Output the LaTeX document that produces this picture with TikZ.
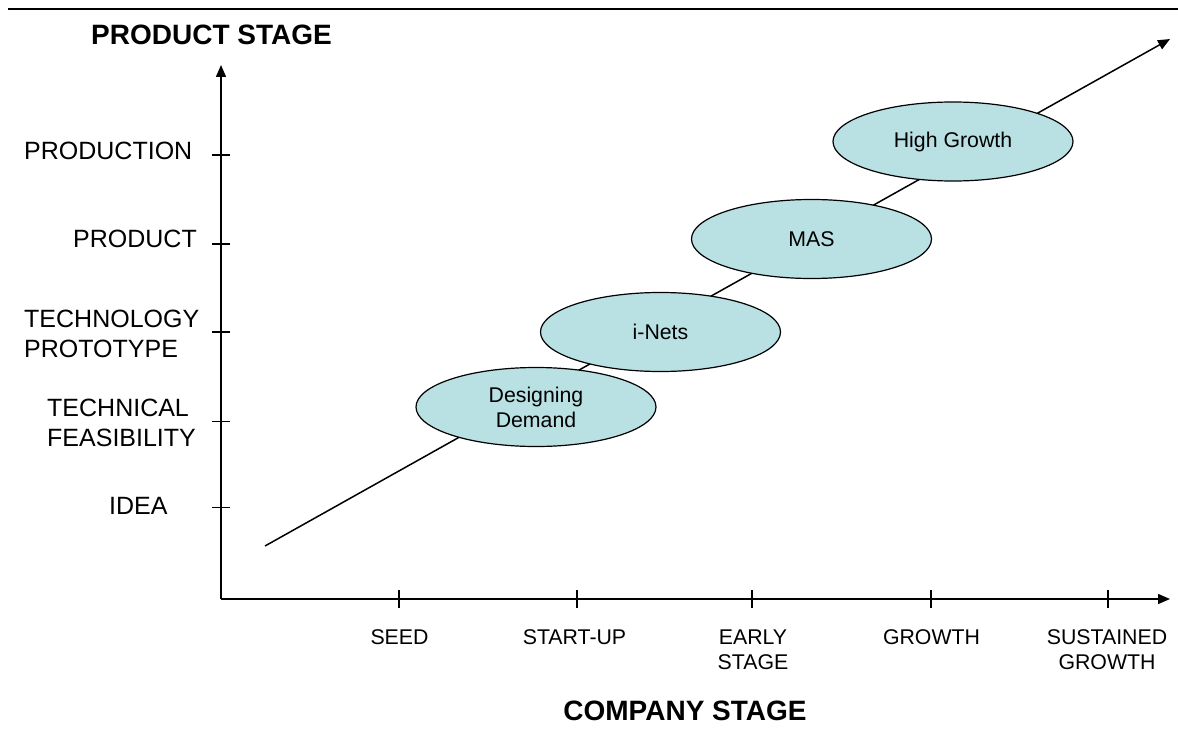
\documentclass[tikz,border=0pt]{standalone}
\usepackage{fontspec}
\setmainfont{Liberation Sans}
\usetikzlibrary{arrows.meta,shapes.geometric}
\definecolor{blobfill}{HTML}{B9E0E3}
\tikzset{
  axisline/.style={line width=1.5pt,-{Triangle[length=12pt,width=10pt]}},
  tickmark/.style={line width=1.2pt},
  ylab/.style={inner sep=0pt,anchor=base west,font=\fontsize{25}{30}\selectfont},
  xlab/.style={inner sep=0pt,anchor=base,font=\fontsize{21.3}{25}\selectfont},
  titlelab/.style={inner sep=0pt,anchor=base,font=\bfseries\fontsize{28}{30}\selectfont},
  blob/.style={ellipse,draw=black,line width=1.2pt,fill=blobfill,minimum width=240pt,minimum height=79pt,inner sep=0pt,align=center,font=\fontsize{21.3}{25}\selectfont},
}
\begin{document}
\begin{tikzpicture}[x=1pt,y=-1pt]
\useasboundingbox (0,0) rectangle (1178,733);
% top rule
\coordinate (rl) at (8,9);
\coordinate (rr) at (1178,9);
\draw[line width=2pt] (rl) -- (rr);
% axes
\coordinate (o) at (221,599);
\coordinate (ytop) at (221,65);
\coordinate (xend) at (1170,599);
\draw[axisline] (o) -- (ytop);
\draw[axisline] (o) -- (xend);
% y ticks
\foreach \yy/\nm in {155/ta,244/tb,332/tc,421.5/td,507.5/te}{
  \coordinate (\nm l) at (212,\yy);
  \coordinate (\nm r) at (230,\yy);
  \draw[tickmark] (\nm l) -- (\nm r);
}
% x ticks
\foreach \xx/\nm in {399/xa,577/xb,752/xc,931/xd,1108/xe}{
  \coordinate (\nm t) at (\xx,590);
  \coordinate (\nm b) at (\xx,608);
  \draw[tickmark] (\nm t) -- (\nm b);
}
% titles
\node[titlelab] (ptitle) at (211.5,45) {PRODUCT STAGE};
\node[titlelab] (ctitle) at (685,720) {COMPANY STAGE};
% y labels
\node[ylab] (yl1) at (24,160) {PRODUCTION};
\node[ylab] (yl2) at (73,247.3) {PRODUCT};
\node[ylab] (yl3a) at (24,327.3) {TECHNOLOGY};
\node[ylab] (yl3b) at (24,357.3) {PROTOTYPE};
\node[ylab] (yl4a) at (47,416) {TECHNICAL};
\node[ylab] (yl4b) at (47,446) {FEASIBILITY};
\node[ylab] (yl5) at (109,514) {IDEA};
% x labels
\node[xlab] (xl1) at (399.5,644) {SEED};
\node[xlab] (xl2) at (574.5,644) {START-UP};
\node[xlab] (xl3a) at (753,644) {EARLY};
\node[xlab] (xl3b) at (753,669) {STAGE};
\node[xlab] (xl4) at (931.5,644) {GROWTH};
\node[xlab] (xl5a) at (1107,644) {SUSTAINED};
\node[xlab] (xl5b) at (1107,669) {GROWTH};
% diagonal trend
\coordinate (ds) at (265,546);
\coordinate (de) at (1170,39);
\draw[axisline] (ds) -- (de);
% ellipses
\node[blob] (dd) at (536,407) {Designing\\Demand};
\node[blob] (inets) at (660.5,332) {i-Nets};
\node[blob] (mas) at (811.5,239) {MAS};
\node[blob] (hg) at (953,141.5) {High Growth};
\end{tikzpicture}
\end{document}
